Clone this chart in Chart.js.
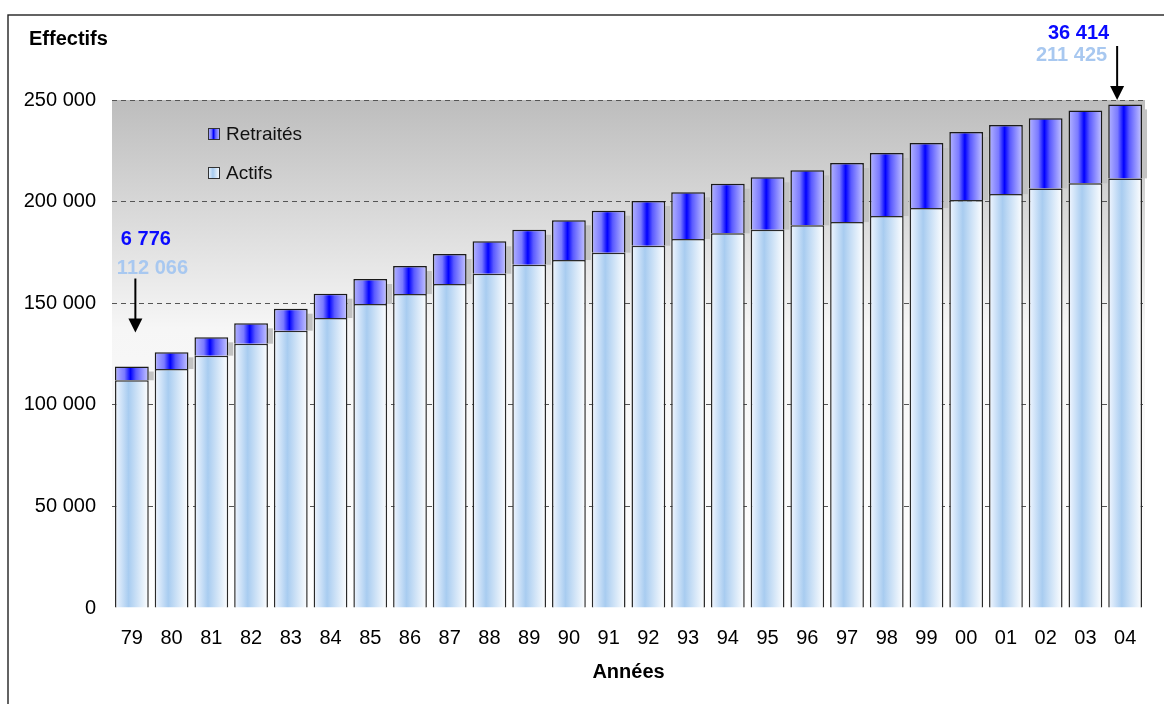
<!DOCTYPE html>
<html>
<head>
<meta charset="utf-8">
<script src="https://cdn.jsdelivr.net/npm/chart.js@4/dist/chart.umd.min.js"></script>
<style>
html,body{margin:0;padding:0;background:#fff;}
canvas{display:block;}
</style>
</head>
<body>
<canvas id="c" width="1164" height="704"></canvas>
<script>
const years = ['79','80','81','82','83','84','85','86','87','88','89','90','91','92','93','94','95','96','97','98','99','00','01','02','03','04'];
const actifs = [112066,117600,124170,130070,136460,142710,149600,154500,159400,164500,168900,171250,174840,178290,181590,184390,186170,188330,189950,192900,196840,200800,203700,206500,209000,211425];
const retraites = [6776,8220,9030,10030,10830,11960,12300,13800,14800,15950,17230,19540,20670,22000,22970,24410,25780,27060,29050,31000,32000,33400,34000,34500,35800,36414];
const yTicks = [0,50000,100000,150000,200000,250000];
const seriesNames = ['Actifs','Retraités'];
const yTitle = 'Effectifs';
const xTitle = 'Années';

const FONT = '"Liberation Sans", Arial, Helvetica, sans-serif';
Chart.defaults.font.family = FONT;
Chart.defaults.color = '#000';

function fmt(v){ return String(v).replace(/\B(?=(\d{3})+(?!\d))/g, ' '); }

const STOPS = {
  actifs: [[0,'#f2f7ff'],[0.4,'#a8ccf0'],[1,'#ffffff']],
  retraites: [[0,'#b4b4ff'],[0.28,'#7a7aff'],[0.46,'#0000ff'],[0.62,'#5a5aff'],[1,'#c8c8ff']]
};
function hGrad(ctx, left, width, stops){
  const g = ctx.createLinearGradient(left,0,left+width,0);
  stops.forEach(s=>g.addColorStop(s[0],s[1]));
  return g;
}
function barFill(key){
  return function(c){
    const chart = c.chart, xs = chart.scales && chart.scales.x;
    if (!xs || c.dataIndex === undefined) return STOPS[key][1][1];
    const cx = xs.getPixelForValue(c.dataIndex);
    const w = xs.width / years.length * 0.85;
    if (!Number.isFinite(cx) || !Number.isFinite(w) || w <= 0) return STOPS[key][1][1];
    return hGrad(chart.ctx, cx - w/2, w, STOPS[key]);
  };
}

const decor = {
  id: 'decor',
  beforeDraw(chart){
    const {ctx, chartArea:a} = chart;
    ctx.save();
    ctx.strokeStyle = '#222'; ctx.lineWidth = 1.4;
    ctx.strokeRect(8, 15, 1300, 900);
    const g = ctx.createLinearGradient(0, a.top, 0, a.bottom);
    g.addColorStop(0, '#bdbdbd');
    g.addColorStop(0.45, '#f6f6f6');
    g.addColorStop(1, '#ffffff');
    ctx.fillStyle = g;
    ctx.fillRect(a.left, a.top, a.right - a.left, a.bottom - a.top);
    ctx.fillStyle = '#000';
    ctx.font = 'bold 20px ' + FONT;
    ctx.textAlign = 'left'; ctx.textBaseline = 'middle';
    ctx.fillText(yTitle, 29, 39);
    ctx.restore();
  },
  beforeDatasetsDraw(chart){
    const {ctx} = chart;
    const meta = chart.getDatasetMeta(1);
    ctx.save();
    ctx.fillStyle = '#c2c2c2';
    meta.data.forEach(el=>{
      const p = el.getProps(['x','y','base','width'], true);
      ctx.fillRect(p.x + p.width/2, p.y + 5, 5, p.base - p.y - 5);
    });
    ctx.restore();
  },
  afterDatasetsDraw(chart){
    const {ctx, chartArea:a} = chart;
    ctx.save();
    const items = [[1,'retraites'],[0,'actifs']];
    ctx.font = '19px ' + FONT;
    ctx.textBaseline = 'middle';
    items.forEach((it, k)=>{
      const bx = a.left + 96, by = a.top + 28 + k*39;
      ctx.fillStyle = hGrad(ctx, bx, 12, STOPS[it[1]]);
      ctx.fillRect(bx, by, 12, 12);
      ctx.strokeStyle = '#333'; ctx.lineWidth = 1;
      ctx.strokeRect(bx+0.5, by+0.5, 11, 11);
      ctx.fillStyle = '#111';
      ctx.textAlign = 'left';
      ctx.fillText(chart.data.datasets[it[0]].label, bx + 18, by + 7);
    });
    const m1 = chart.getDatasetMeta(1);
    function arrow(x, y0, y1){
      ctx.strokeStyle = '#000'; ctx.fillStyle = '#000'; ctx.lineWidth = 2;
      ctx.beginPath(); ctx.moveTo(x, y0); ctx.lineTo(x, y1 - 12); ctx.stroke();
      ctx.beginPath(); ctx.moveTo(x - 7, y1 - 14); ctx.lineTo(x + 7, y1 - 14); ctx.lineTo(x, y1); ctx.closePath(); ctx.fill();
    }
    ctx.font = 'bold 20px ' + FONT;
    let e = m1.data[0].getProps(['x','y'], true);
    ctx.textAlign = 'left';
    ctx.fillStyle = '#0a0aff';
    ctx.fillText(fmt(retraites[0]), e.x - 11, e.y - 127);
    ctx.fillStyle = '#a8c8f0';
    ctx.fillText(fmt(actifs[0]), e.x - 15, e.y - 98);
    arrow(e.x + 3.5, e.y - 88, e.y - 34);
    const n = years.length - 1;
    e = m1.data[n].getProps(['x','y'], true);
    ctx.textAlign = 'right';
    ctx.fillStyle = '#0a0aff';
    ctx.fillText(fmt(retraites[n]), e.x - 16, 33);
    ctx.fillStyle = '#a8c8f0';
    ctx.fillText(fmt(actifs[n]), e.x - 18, 55);
    arrow(e.x - 8, 46, a.top);
    ctx.restore();
  }
};

new Chart(document.getElementById('c'), {
  type: 'bar',
  data: {
    labels: years,
    datasets: [
      { label: seriesNames[0], data: actifs, backgroundColor: barFill('actifs'),
        borderColor: '#2a2a2a', borderWidth: {left:1.5,right:1.5,top:1.5,bottom:0}, borderSkipped: false },
      { label: seriesNames[1], data: retraites, backgroundColor: barFill('retraites'),
        borderColor: '#1a1a1a', borderWidth: {left:1.5,right:1.5,top:1.5,bottom:0}, borderSkipped: false }
    ]
  },
  options: {
    responsive: false,
    animation: false,
    devicePixelRatio: 1,
    layout: { padding: { top: 100, right: 19, left: 0, bottom: 0 } },
    datasets: { bar: { categoryPercentage: 1, barPercentage: 0.85 } },
    plugins: {
      legend: { display: false },
      tooltip: { enabled: false },
      title: { display: false }
    },
    scales: {
      x: {
        stacked: true,
        grid: { display: false },
        border: { display: false },
        ticks: { font: { size: 20 }, color: '#000', padding: 10, maxRotation: 0, autoSkip: false },
        title: { display: true, text: xTitle, color: '#000', font: { size: 20, weight: 'bold' }, padding: { top: 0, bottom: 20 } },
        afterFit(s){ s.height = 96; }
      },
      y: {
        stacked: true,
        min: 0, max: 250000,
        afterBuildTicks(s){ s.ticks = yTicks.map(v=>({value:v})); },
        ticks: { font: { size: 20 }, color: '#000', padding: 16, callback: v => fmt(v) },
        grid: { color: c => c.tick && c.tick.value === 0 ? 'rgba(0,0,0,0)' : '#555', lineWidth: 1, drawTicks: false },
        border: { display: false, dash: [5,4] },
        afterFit(s){ s.width = 112; }
      }
    }
  },
  plugins: [decor]
});
</script>
</body>
</html>
